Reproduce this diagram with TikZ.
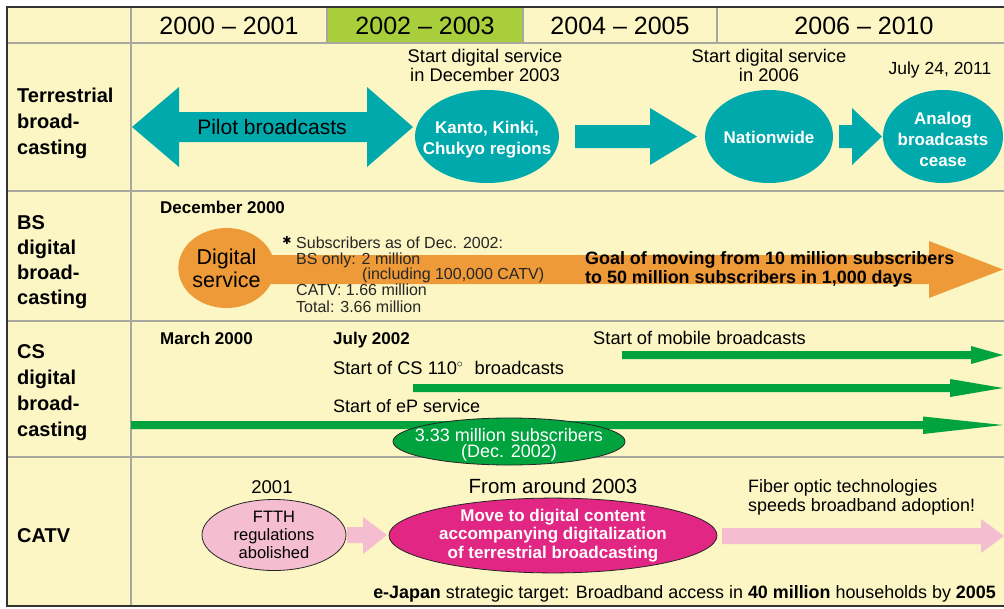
\documentclass[tikz,border=0pt]{standalone}
\usepackage{fontspec}
\setmainfont{Liberation Sans}
\newfontfamily\symfont{DejaVu Sans}
\usetikzlibrary{shapes.geometric}
\definecolor{bg}{HTML}{FBF6C3}
\definecolor{hdrgreen}{HTML}{A9CE3B}
\definecolor{teal}{HTML}{00A9AC}
\definecolor{orangeb}{HTML}{EE9A38}
\definecolor{greenb}{HTML}{00A33D}
\definecolor{pinkl}{HTML}{F5BDD0}
\definecolor{magentab}{HTML}{E22683}
\definecolor{gridc}{HTML}{A8A8A0}
\begin{document}
\begin{tikzpicture}[x=1pt,y=-1pt,
  gridline/.style={draw=gridc,line width=1.2pt},
  border/.style={draw=black!80,line width=1.5pt},
  hdr/.style={inner sep=0pt,anchor=base,font={\fontsize{25}{28}\selectfont}},
  rowlbl/.style={inner sep=0pt,anchor=base west,align=left,font={\bfseries\fontsize{20}{25.5}\selectfont}},
  txt/.style={inner sep=0pt,anchor=base,font={\fontsize{18.3}{17}\selectfont}},
  btxt/.style={inner sep=0pt,anchor=base west,font={\bfseries\fontsize{17}{19}\selectfont}},
  small/.style={inner sep=0pt,anchor=base west,font={\fontsize{16}{17}\selectfont},text=black!85},
  tealell/.style={ellipse,fill=teal,inner sep=0pt},
  elltxt/.style={inner sep=0pt,text=white,align=center,font={\bfseries\fontsize{17}{21}\selectfont}}
]
\useasboundingbox (0,0) rectangle (1004,608);
\fill[white] (0,0) rectangle (1004,608);
\fill[bg] (7,7) rectangle (1004,606);
\fill[hdrgreen] (327,7) rectangle (523,43);
% grid
\draw[gridline] (7,43) -- (1004,43);
\draw[gridline] (7,191) -- (1004,191);
\draw[gridline] (7,321) -- (1004,321);
\draw[gridline] (7,457) -- (1004,457);
\draw[gridline] (131,7) -- (131,606);
\draw[gridline] (327,7) -- (327,43);
\draw[gridline] (523,7) -- (523,43);
\draw[gridline] (717,7) -- (717,43);
\draw[border] (1004,7) -- (7,7) -- (7,606) -- (1004,606);
% header
\node[hdr] (h1) at (229,34) {2000 – 2001};
\node[hdr] (h2) at (425,34) {2002 – 2003};
\node[hdr] (h3) at (620,34) {2004 – 2005};
\node[hdr] (h4) at (864,34) {2006 – 2010};
% row labels (base = last line)
\node[rowlbl,font={\bfseries\fontsize{20}{26}\selectfont}] (l1) at (17,154) {Terrestrial\\broad-\\casting};
\node[rowlbl,font={\bfseries\fontsize{20}{25}\selectfont}] (l2) at (17,304) {BS\\digital\\broad-\\casting};
\node[rowlbl,font={\bfseries\fontsize{20}{25.7}\selectfont}] (l3) at (17,436) {CS\\digital\\broad-\\casting};
\node[rowlbl] (l4) at (17,542) {CATV};
% ---------- terrestrial
\fill[teal] (132,127) -- (179,87) -- (179,112) -- (367,112) -- (367,87) -- (413,127)
  -- (367,167) -- (367,142) -- (179,142) -- (179,167) -- cycle;
\node[inner sep=0pt,anchor=base,font={\fontsize{21}{24}\selectfont}] (pilot) at (272,134.5) {Pilot broadcasts};
\node[tealell,minimum width=144pt,minimum height=93pt] (kanto) at (487,136.5) {};
\node[elltxt] (kantotxt) at ([yshift=-3pt]kanto.center) {Kanto, Kinki,\\Chukyo regions};
\node[txt,align=center] (kantolbl) at (485,81) {Start digital service\\in December 2003};
\fill[teal] (575,125) -- (650,125) -- (650,108) -- (697,136.5) -- (650,165) -- (650,148) -- (575,148) -- cycle;
\node[tealell,minimum width=128pt,minimum height=93pt] (nation) at (769,136.5) {};
\node[elltxt] (nationtxt) at ([yshift=-1pt]nation.center) {Nationwide};
\node[txt,align=center] (nationlbl) at (769,81) {Start digital service\\in 2006};
\fill[teal] (839,125) -- (852,125) -- (852,108) -- (882,136.5) -- (852,165) -- (852,148) -- (839,148) -- cycle;
\node[tealell,minimum width=120pt,minimum height=93pt] (analog) at (943,136.5) {};
\node[elltxt] (analogtxt) at ([yshift=-3pt]analog.center) {Analog\\broadcasts\\cease};
\node[txt,font={\fontsize{17.5}{19}\selectfont}] (julylbl) at (940,74) {July 24, 2011};
% ---------- BS
\node[btxt] (dec2000) at (160,213) {December 2000};
\fill[orangeb] (226,255) -- (929,255) -- (929,241) -- (1003,269.5) -- (929,298) -- (929,284) -- (226,284) -- cycle;
\node[ellipse,fill=orangeb,inner sep=0pt,minimum width=93pt,minimum height=80pt,align=center,
  font={\fontsize{21.5}{23}\selectfont}] (digserv) at (226.5,268) {Digital\\service};
\node[inner sep=0pt,font={\symfont\fontsize{11}{11}\selectfont}] (ast) at (287,240) {✱};
\node[small] (s1) at (296,248.5) {Subscribers as of Dec. 2002:};
\node[small] (s2) at (296,264.5) {BS only: 2 million};
\node[small] (s3) at (362,279) {(including 100,000 CATV)};
\node[small] (s4) at (296,295.5) {CATV: 1.66 million};
\node[small] (s5) at (296,312.5) {Total: 3.66 million};
\node[inner sep=0pt,anchor=base west,align=left,font={\bfseries\fontsize{17.9}{19}\selectfont}] (goal) at (585,283.3)
  {Goal of moving from 10 million subscribers\\to 50 million subscribers in 1,000 days};
% ---------- CS
\node[btxt] (mar2000) at (160,344) {March 2000};
\node[btxt] (jul2002) at (333,344) {July 2002};
\node[txt,anchor=base west] (mob) at (593,344) {Start of mobile broadcasts};
\node[txt,anchor=base west] (cs110) at (333,374) {Start of CS 110$^{\circ}$\,\, broadcasts};
\node[txt,anchor=base west,font={\fontsize{18}{19}\selectfont}] (ep) at (333,412) {Start of eP service};
\fill[greenb] (622,351) -- (971,351) -- (971,346) -- (1003,355) -- (971,364) -- (971,359) -- (622,359) -- cycle;
\fill[greenb] (413,384) -- (950,384) -- (950,379) -- (1003,388) -- (950,397) -- (950,392) -- (413,392) -- cycle;
\fill[greenb] (131,421) -- (923,421) -- (923,416.5) -- (1003,425) -- (923,434) -- (923,429) -- (131,429) -- cycle;
\node[ellipse,fill=greenb,draw=black!85,line width=0.8pt,inner sep=0pt,minimum width=232pt,minimum height=47pt] (cssub) at (509,441.5) {};
\node[elltxt,font={\fontsize{18}{16}\selectfont}] (cssubtxt) at ([yshift=-3.5pt]cssub.center) {3.33 million subscribers\\(Dec. 2002)};
% ---------- CATV
\node[txt,font={\fontsize{18.5}{20}\selectfont}] (y2001) at (272,493) {2001};
\node[txt,font={\fontsize{20.5}{22}\selectfont}] (y2003) at (553,493) {From around 2003};
\node[txt,anchor=base west,align=left,font={\fontsize{17.9}{19}\selectfont}] (fiber) at (748,511.3) {Fiber optic technologies\\speeds broadband adoption!};
\node[ellipse,fill=pinkl,draw=black!85,line width=0.8pt,inner sep=0pt,minimum width=144pt,minimum height=71pt,
  align=center,font={\fontsize{16.5}{18}\selectfont}] (ftth) at (274,535) {FTTH\\regulations\\abolished};
\fill[pinkl] (347,527) -- (363,527) -- (363,517) -- (387,535) -- (363,554) -- (363,543) -- (347,543) -- cycle;
\node[ellipse,fill=magentab,draw=black!85,line width=0.8pt,inner sep=0pt,minimum width=328pt,minimum height=69pt,
  text=white,align=center,font={\bfseries\fontsize{17}{18.5}\selectfont}] (move) at (553,535.5)
  {Move to digital content\\accompanying digitalization\\of terrestrial broadcasting};
\fill[pinkl] (722,528) -- (981,528) -- (981,519) -- (1004,536) -- (981,553) -- (981,544) -- (722,544) -- cycle;
\node[inner sep=0pt,anchor=base east,font={\fontsize{17.9}{19}\selectfont}] (ejapan) at (996,598)
  {\textbf{e-Japan} strategic target: Broadband access in \textbf{40 million} households by \textbf{2005}};
\end{tikzpicture}
\end{document}
